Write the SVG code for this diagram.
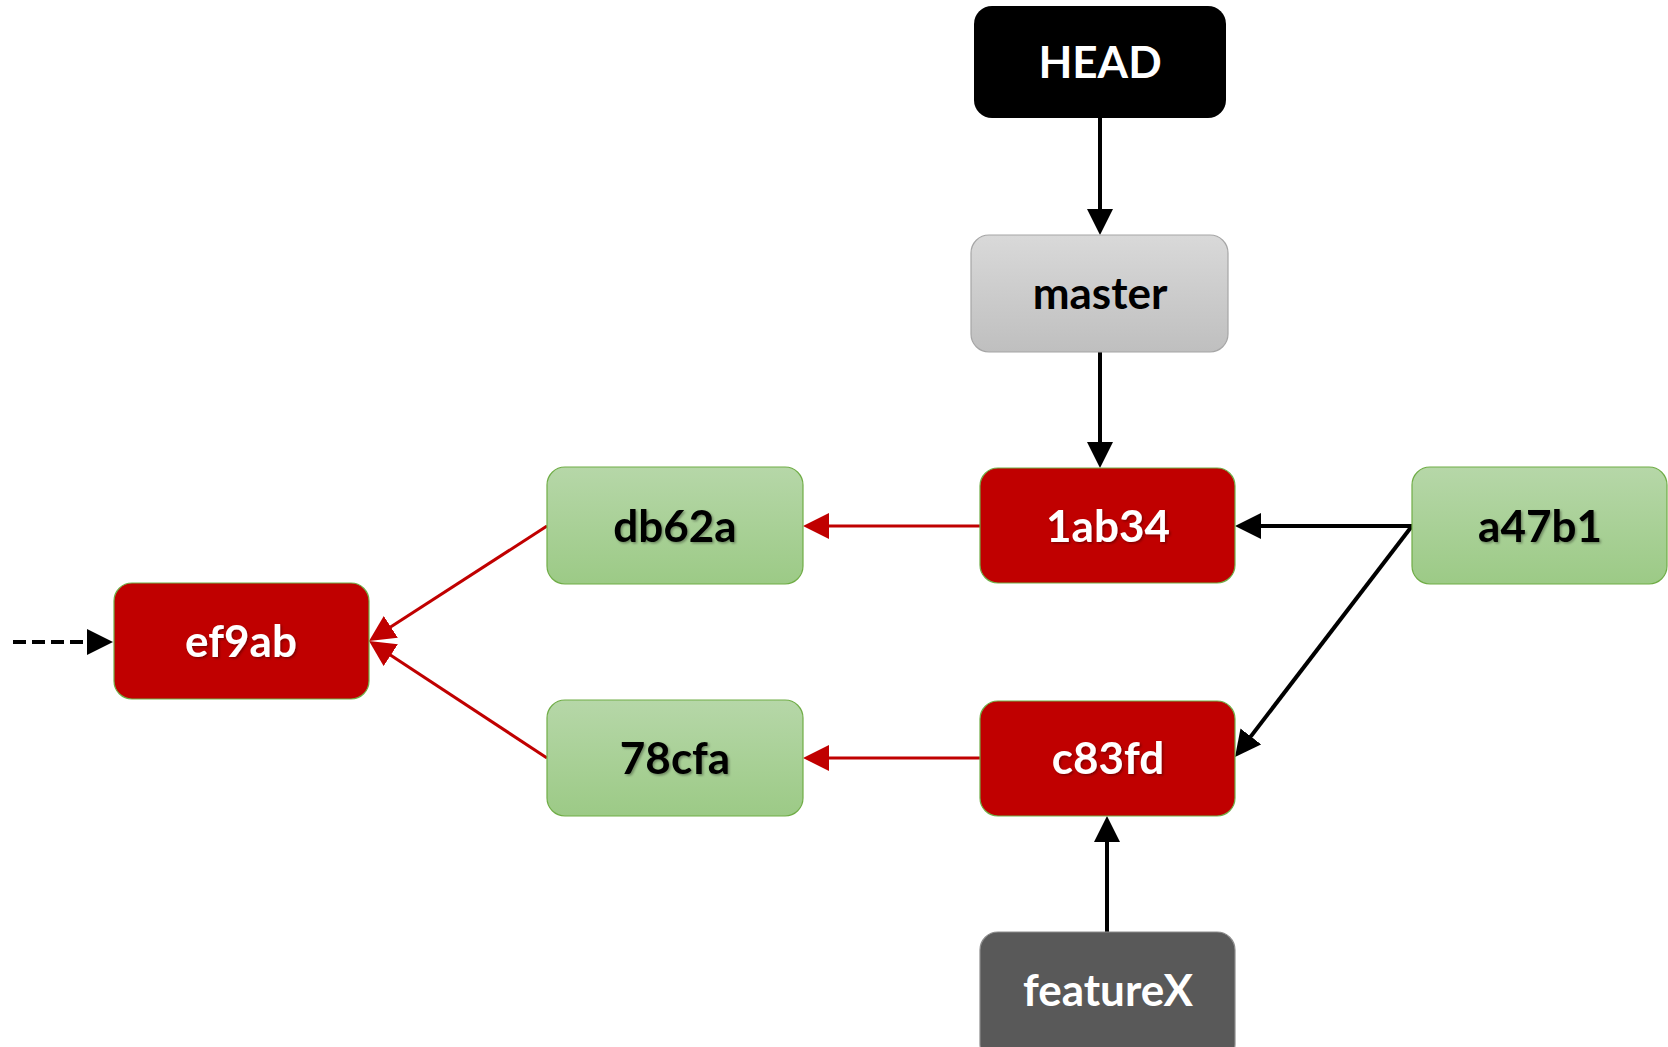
<svg xmlns="http://www.w3.org/2000/svg" width="1668" height="1047" viewBox="0 0 1668 1047">
<style>
.lbl{font-family:Lato,"Liberation Sans",sans-serif;font-weight:bold;font-size:44px;text-anchor:middle}
.w{fill:#ffffff}
.k{fill:#000000}
.red{fill:#c00000;stroke:#70ad47;stroke-width:1.2}
.green{fill:url(#gGreen);stroke:#70ad47;stroke-width:1.2}
.gray{fill:url(#gGray);stroke:#a6a6a6;stroke-width:1.2}
.dark{fill:#595959;stroke:#8c8c8c;stroke-width:1.2}
.blk{fill:#000000}
.cb{stroke:#000;stroke-width:4;fill:none}
.cr{stroke:#c00000;stroke-width:3;fill:none}
</style>
<defs>
<linearGradient id="gGreen" x1="0" y1="0" x2="0" y2="1"><stop offset="0" stop-color="#b6d7a8"/><stop offset="1" stop-color="#9cca86"/></linearGradient>
<linearGradient id="gGray" x1="0" y1="0" x2="0" y2="1"><stop offset="0" stop-color="#d9d9d9"/><stop offset="1" stop-color="#bfbfbf"/></linearGradient>
<filter id="sh" x="-10%" y="-20%" width="120%" height="140%"><feDropShadow dx="1.5" dy="1.5" stdDeviation="1.2" flood-color="#000" flood-opacity="0.35"/></filter>
<marker id="ab" markerUnits="userSpaceOnUse" markerWidth="28" markerHeight="28" refX="16" refY="13" orient="auto"><path d="M0,0 L26,13 L0,26 z" fill="#000"/></marker>
<marker id="ar" markerUnits="userSpaceOnUse" markerWidth="28" markerHeight="28" refX="16" refY="13" orient="auto"><path d="M0,0 L26,13 L0,26 z" fill="#c00000"/></marker>
</defs>
<g id="connectors">
<line class="cb" x1="1100" y1="118" x2="1100" y2="225" marker-end="url(#ab)"/>
<line class="cb" x1="1100" y1="352" x2="1100" y2="458" marker-end="url(#ab)"/>
<line class="cr" x1="980" y1="526" x2="813" y2="526" marker-end="url(#ar)"/>
<line class="cr" x1="980" y1="758" x2="813" y2="758" marker-end="url(#ar)"/>
<line class="cr" x1="547" y1="526" x2="377.4" y2="635.6" marker-end="url(#ar)"/>
<line class="cr" x1="547" y1="758" x2="377.4" y2="646.4" marker-end="url(#ar)"/>
<line class="cb" x1="1412" y1="526" x2="1245" y2="526" marker-end="url(#ab)"/>
<line class="cb" x1="1412" y1="526" x2="1241.1" y2="749.1" marker-end="url(#ab)"/>
<line class="cb" x1="1107" y1="932" x2="1107" y2="826" marker-end="url(#ab)"/>
<line class="cb" x1="13" y1="642" x2="103" y2="642" stroke-dasharray="13 6" marker-end="url(#ab)"/>
</g>
<g id="HEAD"><rect class="blk" x="974" y="6" width="252" height="112" rx="18"/><text class="lbl w" x="1100" y="78">HEAD</text></g>
<g id="master"><rect class="gray" x="971" y="235" width="257" height="117" rx="18"/><text class="lbl k" x="1100" y="309">master</text></g>
<g id="db62a"><rect class="green" x="547" y="467" width="256" height="117" rx="18"/><text class="lbl k" filter="url(#sh)" x="675" y="542">db62a</text></g>
<g id="n1ab34"><rect class="red" x="980" y="468" width="255" height="115" rx="18"/><text class="lbl w" filter="url(#sh)" x="1108" y="542">1ab34</text></g>
<g id="a47b1"><rect class="green" x="1412" y="467" width="255" height="117" rx="18"/><text class="lbl k" filter="url(#sh)" x="1540" y="542">a47b1</text></g>
<g id="ef9ab"><rect class="red" x="114" y="583" width="255" height="116" rx="18"/><text class="lbl w" filter="url(#sh)" x="241" y="657">ef9ab</text></g>
<g id="n78cfa"><rect class="green" x="547" y="700" width="256" height="116" rx="18"/><text class="lbl k" filter="url(#sh)" x="675" y="774">78cfa</text></g>
<g id="c83fd"><rect class="red" x="980" y="701" width="255" height="115" rx="18"/><text class="lbl w" filter="url(#sh)" x="1108" y="774">c83fd</text></g>
<g id="featureX"><rect class="dark" x="980" y="932" width="255" height="130" rx="18"/><text class="lbl w" x="1108" y="1006">featureX</text></g>
</svg>
